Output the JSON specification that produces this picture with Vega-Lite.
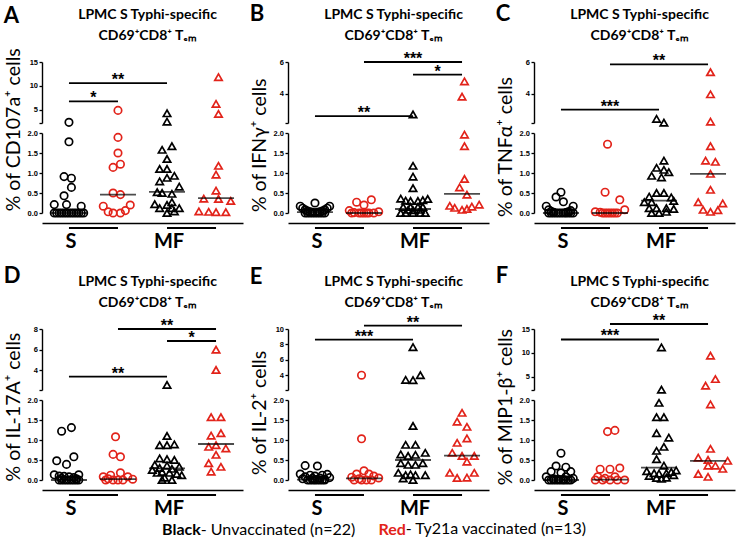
{
"$schema": "https://vega.github.io/schema/vega-lite/v6.json",
"background": "white",
"padding": {"left": 3, "top": 2, "right": 3, "bottom": 1},
"datasets": {
"pairs": [{"g": "S-B", "g2": "S-R"}, {"g": "MF-B", "g2": "MF-R"}],
"med": [
{"p":"A","g":"S-B","v":0},{"p":"A","g":"S-R","v":0.46},{"p":"A","g":"MF-B","v":0.53},{"p":"A","g":"MF-R","v":0.37},
{"p":"B","g":"S-B","v":0.02},{"p":"B","g":"S-R","v":0},{"p":"B","g":"MF-B","v":0.1},{"p":"B","g":"MF-R","v":0.48},
{"p":"C","g":"S-B","v":0},{"p":"C","g":"S-R","v":0},{"p":"C","g":"MF-B","v":0.31},{"p":"C","g":"MF-R","v":0.98},
{"p":"D","g":"S-B","v":0},{"p":"D","g":"S-R","v":0.02},{"p":"D","g":"MF-B","v":0.29},{"p":"D","g":"MF-R","v":0.9},
{"p":"E","g":"S-B","v":0.01},{"p":"E","g":"S-R","v":0.04},{"p":"E","g":"MF-B","v":0.5},{"p":"E","g":"MF-R","v":0.61},
{"p":"F","g":"S-B","v":0},{"p":"F","g":"S-R","v":0.01},{"p":"F","g":"MF-B","v":0.31},{"p":"F","g":"MF-R","v":0.48}
],
"sig": [
{"p":"A","g":"S-B","g2":"MF-B","v":10.6,"lab":"**","mid":"S-R","edge":false},
{"p":"A","g":"S-B","g2":"S-R","v":6.8,"lab":"*","mid":"S-B","edge":true},
{"p":"B","g":"S-R","g2":"MF-R","v":6.0,"lab":"***","mid":"MF-B","edge":false},
{"p":"B","g":"MF-B","g2":"MF-R","v":5.2,"lab":"*","mid":"MF-B","edge":true},
{"p":"B","g":"S-B","g2":"MF-B","v":2.57,"lab":"**","mid":"S-R","edge":false},
{"p":"C","g":"S-R","g2":"MF-R","v":5.85,"lab":"**","mid":"MF-B","edge":false},
{"p":"C","g":"S-B","g2":"MF-B","v":2.98,"lab":"***","mid":"S-R","edge":false},
{"p":"D","g":"S-R","g2":"MF-R","v":8.0,"lab":"**","mid":"MF-B","edge":false},
{"p":"D","g":"MF-B","g2":"MF-R","v":6.83,"lab":"*","mid":"MF-B","edge":true},
{"p":"D","g":"S-B","g2":"MF-B","v":3.35,"lab":"**","mid":"S-R","edge":false},
{"p":"E","g":"S-R","g2":"MF-R","v":10.43,"lab":"**","mid":"MF-B","edge":false},
{"p":"E","g":"S-B","g2":"MF-B","v":8.63,"lab":"***","mid":"S-R","edge":false},
{"p":"F","g":"S-R","g2":"MF-R","v":16.05,"lab":"**","mid":"MF-B","edge":false},
{"p":"F","g":"S-B","g2":"MF-B","v":12.8,"lab":"***","mid":"S-R","edge":false}
],
"pts": [
{"p":"A","g":"S-B","v":2.41,"k":0},{"p":"A","g":"S-B","v":1.78,"k":0},{"p":"A","g":"S-B","v":0.91,"k":-2},{"p":"A","g":"S-B","v":0.87,"k":1},{"p":"A","g":"S-B","v":0.64,"k":1},{"p":"A","g":"S-B","v":0.43,"k":-2},{"p":"A","g":"S-B","v":0.21,"k":-6},{"p":"A","g":"S-B","v":0.21,"k":-1},{"p":"A","g":"S-B","v":0.17,"k":5},{"p":"A","g":"S-B","v":0,"k":-6},{"p":"A","g":"S-B","v":0,"k":-5},{"p":"A","g":"S-B","v":0,"k":-4},{"p":"A","g":"S-B","v":0,"k":-3},{"p":"A","g":"S-B","v":0,"k":-2},{"p":"A","g":"S-B","v":0,"k":-1},{"p":"A","g":"S-B","v":0,"k":0},{"p":"A","g":"S-B","v":0,"k":1},{"p":"A","g":"S-B","v":0,"k":2},{"p":"A","g":"S-B","v":0,"k":3},{"p":"A","g":"S-B","v":0,"k":4},{"p":"A","g":"S-B","v":0,"k":5},{"p":"A","g":"S-B","v":0,"k":6},
{"p":"A","g":"S-R","v":4.9,"k":0},{"p":"A","g":"S-R","v":1.89,"k":0},{"p":"A","g":"S-R","v":1.5,"k":0},{"p":"A","g":"S-R","v":1.22,"k":1},{"p":"A","g":"S-R","v":1.14,"k":-2},{"p":"A","g":"S-R","v":0.5,"k":-2},{"p":"A","g":"S-R","v":0.46,"k":1},{"p":"A","g":"S-R","v":0.2,"k":5},{"p":"A","g":"S-R","v":0.17,"k":-6},{"p":"A","g":"S-R","v":0.06,"k":3},{"p":"A","g":"S-R","v":0.03,"k":-4},{"p":"A","g":"S-R","v":0,"k":-2},{"p":"A","g":"S-R","v":0,"k":1},
{"p":"A","g":"MF-B","v":4.3,"k":0},{"p":"A","g":"MF-B","v":2.55,"k":0},{"p":"A","g":"MF-B","v":1.67,"k":2},{"p":"A","g":"MF-B","v":1.58,"k":-2},{"p":"A","g":"MF-B","v":1.35,"k":0},{"p":"A","g":"MF-B","v":1.1,"k":-3},{"p":"A","g":"MF-B","v":1.1,"k":0},{"p":"A","g":"MF-B","v":0.93,"k":3},{"p":"A","g":"MF-B","v":0.88,"k":0},{"p":"A","g":"MF-B","v":0.79,"k":-3},{"p":"A","g":"MF-B","v":0.66,"k":5},{"p":"A","g":"MF-B","v":0.52,"k":-4},{"p":"A","g":"MF-B","v":0.5,"k":-2},{"p":"A","g":"MF-B","v":0.48,"k":2},{"p":"A","g":"MF-B","v":0.27,"k":2},{"p":"A","g":"MF-B","v":0.22,"k":-5},{"p":"A","g":"MF-B","v":0.2,"k":0},{"p":"A","g":"MF-B","v":0.12,"k":-3},{"p":"A","g":"MF-B","v":0.12,"k":2},{"p":"A","g":"MF-B","v":0.12,"k":5},{"p":"A","g":"MF-B","v":0.04,"k":3},{"p":"A","g":"MF-B","v":0,"k":0},
{"p":"A","g":"MF-R","v":11.85,"k":1},{"p":"A","g":"MF-R","v":6.26,"k":0},{"p":"A","g":"MF-R","v":4.16,"k":1},{"p":"A","g":"MF-R","v":1.18,"k":1},{"p":"A","g":"MF-R","v":0.96,"k":0},{"p":"A","g":"MF-R","v":0.56,"k":0},{"p":"A","g":"MF-R","v":0.36,"k":-5},{"p":"A","g":"MF-R","v":0.35,"k":1},{"p":"A","g":"MF-R","v":0.3,"k":6},{"p":"A","g":"MF-R","v":0.04,"k":-7},{"p":"A","g":"MF-R","v":0.03,"k":-3},{"p":"A","g":"MF-R","v":0.02,"k":0},{"p":"A","g":"MF-R","v":0.02,"k":4},
{"p":"B","g":"S-B","v":0.25,"k":0},{"p":"B","g":"S-B","v":0.17,"k":-6},{"p":"B","g":"S-B","v":0.17,"k":6},{"p":"B","g":"S-B","v":0.12,"k":-5},{"p":"B","g":"S-B","v":0.12,"k":5},{"p":"B","g":"S-B","v":0.08,"k":-4},{"p":"B","g":"S-B","v":0.08,"k":4},{"p":"B","g":"S-B","v":0.05,"k":-3},{"p":"B","g":"S-B","v":0.05,"k":3},{"p":"B","g":"S-B","v":0.03,"k":-2},{"p":"B","g":"S-B","v":0.03,"k":2},{"p":"B","g":"S-B","v":0.02,"k":-1},{"p":"B","g":"S-B","v":0.02,"k":1},{"p":"B","g":"S-B","v":0,"k":-4},{"p":"B","g":"S-B","v":0,"k":-3},{"p":"B","g":"S-B","v":0,"k":-2},{"p":"B","g":"S-B","v":0,"k":-1},{"p":"B","g":"S-B","v":0,"k":0},{"p":"B","g":"S-B","v":0,"k":1},{"p":"B","g":"S-B","v":0,"k":2},{"p":"B","g":"S-B","v":0,"k":3},{"p":"B","g":"S-B","v":0,"k":4},
{"p":"B","g":"S-R","v":0.33,"k":3},{"p":"B","g":"S-R","v":0.27,"k":-3},{"p":"B","g":"S-R","v":0.2,"k":0},{"p":"B","g":"S-R","v":0.06,"k":-6},{"p":"B","g":"S-R","v":0.03,"k":6},{"p":"B","g":"S-R","v":0.01,"k":-4},{"p":"B","g":"S-R","v":0,"k":-2},{"p":"B","g":"S-R","v":0,"k":-1},{"p":"B","g":"S-R","v":0,"k":0},{"p":"B","g":"S-R","v":0,"k":1},{"p":"B","g":"S-R","v":0,"k":2},{"p":"B","g":"S-R","v":0,"k":4},{"p":"B","g":"S-R","v":0,"k":-5},
{"p":"B","g":"MF-B","v":2.67,"k":0},{"p":"B","g":"MF-B","v":1.18,"k":0},{"p":"B","g":"MF-B","v":0.91,"k":0},{"p":"B","g":"MF-B","v":0.62,"k":0},{"p":"B","g":"MF-B","v":0.36,"k":-5},{"p":"B","g":"MF-B","v":0.35,"k":6},{"p":"B","g":"MF-B","v":0.31,"k":-3},{"p":"B","g":"MF-B","v":0.3,"k":-1},{"p":"B","g":"MF-B","v":0.3,"k":2},{"p":"B","g":"MF-B","v":0.32,"k":4},{"p":"B","g":"MF-B","v":0.15,"k":-4},{"p":"B","g":"MF-B","v":0.15,"k":-1},{"p":"B","g":"MF-B","v":0.15,"k":2},{"p":"B","g":"MF-B","v":0.15,"k":4},{"p":"B","g":"MF-B","v":0.08,"k":-2},{"p":"B","g":"MF-B","v":0.07,"k":0},{"p":"B","g":"MF-B","v":0.08,"k":3},{"p":"B","g":"MF-B","v":0,"k":-5},{"p":"B","g":"MF-B","v":0,"k":-3},{"p":"B","g":"MF-B","v":0,"k":0},{"p":"B","g":"MF-B","v":0,"k":3},{"p":"B","g":"MF-B","v":0,"k":5},
{"p":"B","g":"MF-R","v":4.77,"k":1},{"p":"B","g":"MF-R","v":3.8,"k":0},{"p":"B","g":"MF-R","v":1.96,"k":1},{"p":"B","g":"MF-R","v":1.67,"k":1},{"p":"B","g":"MF-R","v":0.85,"k":1},{"p":"B","g":"MF-R","v":0.64,"k":-1},{"p":"B","g":"MF-R","v":0.46,"k":2},{"p":"B","g":"MF-R","v":0.18,"k":-5},{"p":"B","g":"MF-R","v":0.13,"k":-3},{"p":"B","g":"MF-R","v":0.08,"k":0},{"p":"B","g":"MF-R","v":0.1,"k":2},{"p":"B","g":"MF-R","v":0.16,"k":4},{"p":"B","g":"MF-R","v":0.21,"k":7},
{"p":"C","g":"S-B","v":0.52,"k":0},{"p":"C","g":"S-B","v":0.4,"k":-2},{"p":"C","g":"S-B","v":0.28,"k":1},{"p":"C","g":"S-B","v":0.17,"k":-6},{"p":"C","g":"S-B","v":0.17,"k":5},{"p":"C","g":"S-B","v":0.08,"k":-5},{"p":"C","g":"S-B","v":0.06,"k":4},{"p":"C","g":"S-B","v":0.04,"k":-4},{"p":"C","g":"S-B","v":0.03,"k":3},{"p":"C","g":"S-B","v":0.02,"k":-3},{"p":"C","g":"S-B","v":0.01,"k":2},{"p":"C","g":"S-B","v":0,"k":-5},{"p":"C","g":"S-B","v":0,"k":-4},{"p":"C","g":"S-B","v":0,"k":-3},{"p":"C","g":"S-B","v":0,"k":-2},{"p":"C","g":"S-B","v":0,"k":-1},{"p":"C","g":"S-B","v":0,"k":0},{"p":"C","g":"S-B","v":0,"k":1},{"p":"C","g":"S-B","v":0,"k":2},{"p":"C","g":"S-B","v":0,"k":3},{"p":"C","g":"S-B","v":0,"k":4},{"p":"C","g":"S-B","v":0,"k":5},
{"p":"C","g":"S-R","v":1.72,"k":-1},{"p":"C","g":"S-R","v":0.52,"k":-2},{"p":"C","g":"S-R","v":0.33,"k":4},{"p":"C","g":"S-R","v":0.08,"k":6},{"p":"C","g":"S-R","v":0.03,"k":-6},{"p":"C","g":"S-R","v":0.02,"k":-4},{"p":"C","g":"S-R","v":0,"k":-3},{"p":"C","g":"S-R","v":0,"k":-2},{"p":"C","g":"S-R","v":0,"k":-1},{"p":"C","g":"S-R","v":0,"k":0},{"p":"C","g":"S-R","v":0,"k":1},{"p":"C","g":"S-R","v":0,"k":2},{"p":"C","g":"S-R","v":0,"k":3},
{"p":"C","g":"MF-B","v":2.39,"k":-1},{"p":"C","g":"MF-B","v":2.15,"k":2},{"p":"C","g":"MF-B","v":1.31,"k":2},{"p":"C","g":"MF-B","v":1.13,"k":-1},{"p":"C","g":"MF-B","v":1.08,"k":2},{"p":"C","g":"MF-B","v":1.02,"k":4},{"p":"C","g":"MF-B","v":0.93,"k":-3},{"p":"C","g":"MF-B","v":0.89,"k":1},{"p":"C","g":"MF-B","v":0.5,"k":-1},{"p":"C","g":"MF-B","v":0.5,"k":2},{"p":"C","g":"MF-B","v":0.41,"k":-4},{"p":"C","g":"MF-B","v":0.39,"k":5},{"p":"C","g":"MF-B","v":0.27,"k":-6},{"p":"C","g":"MF-B","v":0.27,"k":-3},{"p":"C","g":"MF-B","v":0.3,"k":6},{"p":"C","g":"MF-B","v":0.12,"k":-4},{"p":"C","g":"MF-B","v":0.12,"k":-1},{"p":"C","g":"MF-B","v":0.12,"k":3},{"p":"C","g":"MF-B","v":0.1,"k":6},{"p":"C","g":"MF-B","v":0,"k":-3},{"p":"C","g":"MF-B","v":0,"k":0},{"p":"C","g":"MF-B","v":0.03,"k":3},
{"p":"C","g":"MF-R","v":5.35,"k":1},{"p":"C","g":"MF-R","v":3.95,"k":1},{"p":"C","g":"MF-R","v":2.22,"k":1},{"p":"C","g":"MF-R","v":1.67,"k":1},{"p":"C","g":"MF-R","v":1.31,"k":-1},{"p":"C","g":"MF-R","v":1.28,"k":3},{"p":"C","g":"MF-R","v":0.98,"k":1},{"p":"C","g":"MF-R","v":0.58,"k":1},{"p":"C","g":"MF-R","v":0.27,"k":-4},{"p":"C","g":"MF-R","v":0.24,"k":6},{"p":"C","g":"MF-R","v":0.08,"k":-2},{"p":"C","g":"MF-R","v":0.03,"k":1},{"p":"C","g":"MF-R","v":0.07,"k":4},
{"p":"D","g":"S-B","v":1.31,"k":1},{"p":"D","g":"S-B","v":1.22,"k":-3},{"p":"D","g":"S-B","v":0.58,"k":2},{"p":"D","g":"S-B","v":0.48,"k":-5},{"p":"D","g":"S-B","v":0.39,"k":-1},{"p":"D","g":"S-B","v":0.13,"k":-6},{"p":"D","g":"S-B","v":0.13,"k":4},{"p":"D","g":"S-B","v":0.1,"k":-4},{"p":"D","g":"S-B","v":0.09,"k":-2},{"p":"D","g":"S-B","v":0.08,"k":0},{"p":"D","g":"S-B","v":0.06,"k":2},{"p":"D","g":"S-B","v":0.04,"k":-3},{"p":"D","g":"S-B","v":0.03,"k":3},{"p":"D","g":"S-B","v":0,"k":-4},{"p":"D","g":"S-B","v":0,"k":-3},{"p":"D","g":"S-B","v":0,"k":-2},{"p":"D","g":"S-B","v":0,"k":-1},{"p":"D","g":"S-B","v":0,"k":0},{"p":"D","g":"S-B","v":0,"k":1},{"p":"D","g":"S-B","v":0,"k":2},{"p":"D","g":"S-B","v":0,"k":3},{"p":"D","g":"S-B","v":0,"k":4},
{"p":"D","g":"S-R","v":1.08,"k":-1},{"p":"D","g":"S-R","v":0.64,"k":-2},{"p":"D","g":"S-R","v":0.58,"k":1},{"p":"D","g":"S-R","v":0.18,"k":1},{"p":"D","g":"S-R","v":0.12,"k":-3},{"p":"D","g":"S-R","v":0.08,"k":-6},{"p":"D","g":"S-R","v":0.08,"k":4},{"p":"D","g":"S-R","v":0.03,"k":-4},{"p":"D","g":"S-R","v":0.02,"k":6},{"p":"D","g":"S-R","v":0,"k":-2},{"p":"D","g":"S-R","v":0,"k":0},{"p":"D","g":"S-R","v":0,"k":2},{"p":"D","g":"S-R","v":0,"k":-5},
{"p":"D","g":"MF-B","v":2.54,"k":0},{"p":"D","g":"MF-B","v":1.1,"k":0},{"p":"D","g":"MF-B","v":0.87,"k":-3},{"p":"D","g":"MF-B","v":0.87,"k":0},{"p":"D","g":"MF-B","v":0.89,"k":3},{"p":"D","g":"MF-B","v":0.54,"k":-3},{"p":"D","g":"MF-B","v":0.52,"k":0},{"p":"D","g":"MF-B","v":0.5,"k":3},{"p":"D","g":"MF-B","v":0.38,"k":-5},{"p":"D","g":"MF-B","v":0.36,"k":0},{"p":"D","g":"MF-B","v":0.33,"k":5},{"p":"D","g":"MF-B","v":0.3,"k":-3},{"p":"D","g":"MF-B","v":0.28,"k":2},{"p":"D","g":"MF-B","v":0.25,"k":-6},{"p":"D","g":"MF-B","v":0.2,"k":-2},{"p":"D","g":"MF-B","v":0.18,"k":-4},{"p":"D","g":"MF-B","v":0.18,"k":1},{"p":"D","g":"MF-B","v":0.15,"k":4},{"p":"D","g":"MF-B","v":0.12,"k":6},{"p":"D","g":"MF-B","v":0.06,"k":-1},{"p":"D","g":"MF-B","v":0,"k":-2},{"p":"D","g":"MF-B","v":0,"k":2},
{"p":"D","g":"MF-R","v":5.98,"k":0},{"p":"D","g":"MF-R","v":4.0,"k":0},{"p":"D","g":"MF-R","v":1.57,"k":-2},{"p":"D","g":"MF-R","v":1.57,"k":2},{"p":"D","g":"MF-R","v":1.11,"k":-2},{"p":"D","g":"MF-R","v":1.17,"k":2},{"p":"D","g":"MF-R","v":0.83,"k":-3},{"p":"D","g":"MF-R","v":0.87,"k":0},{"p":"D","g":"MF-R","v":0.79,"k":4},{"p":"D","g":"MF-R","v":0.63,"k":0},{"p":"D","g":"MF-R","v":0.42,"k":-3},{"p":"D","g":"MF-R","v":0.33,"k":2},{"p":"D","g":"MF-R","v":0.21,"k":-2},
{"p":"E","g":"S-B","v":0.36,"k":-4},{"p":"E","g":"S-B","v":0.35,"k":1},{"p":"E","g":"S-B","v":0.15,"k":-6},{"p":"E","g":"S-B","v":0.14,"k":5},{"p":"E","g":"S-B","v":0.12,"k":-2},{"p":"E","g":"S-B","v":0.12,"k":3},{"p":"E","g":"S-B","v":0.1,"k":0},{"p":"E","g":"S-B","v":0.08,"k":-4},{"p":"E","g":"S-B","v":0.06,"k":6},{"p":"E","g":"S-B","v":0.05,"k":2},{"p":"E","g":"S-B","v":0.04,"k":-1},{"p":"E","g":"S-B","v":0.03,"k":-5},{"p":"E","g":"S-B","v":0.02,"k":4},{"p":"E","g":"S-B","v":0.01,"k":0},{"p":"E","g":"S-B","v":0,"k":-3},{"p":"E","g":"S-B","v":0,"k":-2},{"p":"E","g":"S-B","v":0,"k":-1},{"p":"E","g":"S-B","v":0,"k":0},{"p":"E","g":"S-B","v":0,"k":1},{"p":"E","g":"S-B","v":0,"k":2},{"p":"E","g":"S-B","v":0,"k":3},{"p":"E","g":"S-B","v":0,"k":4},
{"p":"E","g":"S-R","v":3.99,"k":-1},{"p":"E","g":"S-R","v":1.03,"k":-1},{"p":"E","g":"S-R","v":0.23,"k":0},{"p":"E","g":"S-R","v":0.15,"k":-3},{"p":"E","g":"S-R","v":0.15,"k":2},{"p":"E","g":"S-R","v":0.1,"k":4},{"p":"E","g":"S-R","v":0.07,"k":-5},{"p":"E","g":"S-R","v":0.05,"k":6},{"p":"E","g":"S-R","v":0.03,"k":-2},{"p":"E","g":"S-R","v":0,"k":-4},{"p":"E","g":"S-R","v":0,"k":-1},{"p":"E","g":"S-R","v":0,"k":1},{"p":"E","g":"S-R","v":0,"k":3},
{"p":"E","g":"MF-B","v":7.64,"k":0},{"p":"E","g":"MF-B","v":3.99,"k":3},{"p":"E","g":"MF-B","v":3.39,"k":-3},{"p":"E","g":"MF-B","v":3.35,"k":0},{"p":"E","g":"MF-B","v":1.35,"k":0},{"p":"E","g":"MF-B","v":0.88,"k":-3},{"p":"E","g":"MF-B","v":0.88,"k":1},{"p":"E","g":"MF-B","v":0.68,"k":5},{"p":"E","g":"MF-B","v":0.64,"k":-5},{"p":"E","g":"MF-B","v":0.6,"k":-2},{"p":"E","g":"MF-B","v":0.63,"k":1},{"p":"E","g":"MF-B","v":0.42,"k":-5},{"p":"E","g":"MF-B","v":0.42,"k":4},{"p":"E","g":"MF-B","v":0.38,"k":-2},{"p":"E","g":"MF-B","v":0.38,"k":1},{"p":"E","g":"MF-B","v":0.18,"k":-6},{"p":"E","g":"MF-B","v":0.14,"k":-1},{"p":"E","g":"MF-B","v":0.12,"k":-3},{"p":"E","g":"MF-B","v":0.12,"k":1},{"p":"E","g":"MF-B","v":0.12,"k":5},{"p":"E","g":"MF-B","v":0.04,"k":-4},{"p":"E","g":"MF-B","v":0,"k":0},
{"p":"E","g":"MF-R","v":1.68,"k":0},{"p":"E","g":"MF-R","v":1.46,"k":-2},{"p":"E","g":"MF-R","v":1.33,"k":2},{"p":"E","g":"MF-R","v":1.04,"k":2},{"p":"E","g":"MF-R","v":0.93,"k":-2},{"p":"E","g":"MF-R","v":0.68,"k":-4},{"p":"E","g":"MF-R","v":0.6,"k":5},{"p":"E","g":"MF-R","v":0.6,"k":0},{"p":"E","g":"MF-R","v":0.46,"k":2},{"p":"E","g":"MF-R","v":0.18,"k":-5},{"p":"E","g":"MF-R","v":0.18,"k":5},{"p":"E","g":"MF-R","v":0.05,"k":-2},{"p":"E","g":"MF-R","v":0.06,"k":2},
{"p":"F","g":"S-B","v":0.67,"k":0},{"p":"F","g":"S-B","v":0.35,"k":-2},{"p":"F","g":"S-B","v":0.32,"k":2},{"p":"F","g":"S-B","v":0.21,"k":-4},{"p":"F","g":"S-B","v":0.18,"k":0},{"p":"F","g":"S-B","v":0.21,"k":4},{"p":"F","g":"S-B","v":0.08,"k":-6},{"p":"F","g":"S-B","v":0.08,"k":2},{"p":"F","g":"S-B","v":0.04,"k":5},{"p":"F","g":"S-B","v":0.03,"k":-3},{"p":"F","g":"S-B","v":0.02,"k":-1},{"p":"F","g":"S-B","v":0.01,"k":1},{"p":"F","g":"S-B","v":0,"k":-5},{"p":"F","g":"S-B","v":0,"k":-4},{"p":"F","g":"S-B","v":0,"k":-3},{"p":"F","g":"S-B","v":0,"k":-2},{"p":"F","g":"S-B","v":0,"k":-1},{"p":"F","g":"S-B","v":0,"k":0},{"p":"F","g":"S-B","v":0,"k":1},{"p":"F","g":"S-B","v":0,"k":2},{"p":"F","g":"S-B","v":0,"k":3},{"p":"F","g":"S-B","v":0,"k":4},
{"p":"F","g":"S-R","v":1.24,"k":2},{"p":"F","g":"S-R","v":1.21,"k":-1},{"p":"F","g":"S-R","v":0.3,"k":4},{"p":"F","g":"S-R","v":0.27,"k":-4},{"p":"F","g":"S-R","v":0.27,"k":0},{"p":"F","g":"S-R","v":0.08,"k":-5},{"p":"F","g":"S-R","v":0.08,"k":2},{"p":"F","g":"S-R","v":0.04,"k":-2},{"p":"F","g":"S-R","v":0,"k":-6},{"p":"F","g":"S-R","v":0,"k":-3},{"p":"F","g":"S-R","v":0,"k":0},{"p":"F","g":"S-R","v":0,"k":3},{"p":"F","g":"S-R","v":0,"k":6},
{"p":"F","g":"MF-B","v":11.15,"k":1},{"p":"F","g":"MF-B","v":2.27,"k":1},{"p":"F","g":"MF-B","v":1.93,"k":0},{"p":"F","g":"MF-B","v":1.57,"k":-1},{"p":"F","g":"MF-B","v":1.57,"k":2},{"p":"F","g":"MF-B","v":1.17,"k":-1},{"p":"F","g":"MF-B","v":1.06,"k":4},{"p":"F","g":"MF-B","v":0.83,"k":2},{"p":"F","g":"MF-B","v":0.73,"k":-1},{"p":"F","g":"MF-B","v":0.52,"k":-1},{"p":"F","g":"MF-B","v":0.36,"k":2},{"p":"F","g":"MF-B","v":0.22,"k":-5},{"p":"F","g":"MF-B","v":0.17,"k":-2},{"p":"F","g":"MF-B","v":0.16,"k":0},{"p":"F","g":"MF-B","v":0.17,"k":3},{"p":"F","g":"MF-B","v":0.2,"k":5},{"p":"F","g":"MF-B","v":0.1,"k":-4},{"p":"F","g":"MF-B","v":0.05,"k":-1},{"p":"F","g":"MF-B","v":0.03,"k":1},{"p":"F","g":"MF-B","v":0.06,"k":3},{"p":"F","g":"MF-B","v":0.24,"k":7},{"p":"F","g":"MF-B","v":0.12,"k":6},
{"p":"F","g":"MF-R","v":9.4,"k":1},{"p":"F","g":"MF-R","v":4.5,"k":3},{"p":"F","g":"MF-R","v":3.1,"k":-1},{"p":"F","g":"MF-R","v":1.89,"k":1},{"p":"F","g":"MF-R","v":0.78,"k":1},{"p":"F","g":"MF-R","v":0.56,"k":-4},{"p":"F","g":"MF-R","v":0.5,"k":0},{"p":"F","g":"MF-R","v":0.48,"k":8},{"p":"F","g":"MF-R","v":0.36,"k":0},{"p":"F","g":"MF-R","v":0.36,"k":3},{"p":"F","g":"MF-R","v":0.28,"k":6},{"p":"F","g":"MF-R","v":0.15,"k":-4},{"p":"F","g":"MF-R","v":0.08,"k":0}
]
},
"columns": 3,
"spacing": {"row": 10, "column": 45},
"bounds": "flush",
"resolve": {"scale": {"x": "independent", "y": "independent", "xOffset": "independent"}},
"concat": [
 {"width": 201, "height": 61, "layer": [
  {"data": {"name": "pts"}, "transform": [{"filter": "datum.p=='A' && datum.v>2"}], "mark": {"type": "point", "filled": false, "strokeWidth": 1.7, "opacity": 1},
   "encoding": {"x": {"field": "g", "type": "nominal", "scale": {"type": "band", "domain": ["S-B","S-R","MF-B","MF-R"], "paddingInner": 0, "paddingOuter": 0.05}, "axis": {"orient": "top", "title": ["LPMC S Typhi-specific", "CD69⁺CD8⁺ Tₑₘ"]}},
    "xOffset": {"field": "k", "type": "quantitative", "scale": {"domain": [-10, 10], "nice": false, "zero": false}},
    "y": {"field": "v", "type": "quantitative", "scale": {"domain": [2.27, 15], "nice": false, "zero": false}, "axis": {"values": [2.27, 5, 10, 15], "tickCount": 12, "format": "d", "labelOverlap": false, "labelExpr": "datum.value<2.9?'':datum.label", "title": "A", "titleAngle": 0.01, "titleAlign": "left", "titleX": -38.7, "titleY": -40, "titleFontSize": 22, "titleFontWeight": "bold"}},
    "color": {"field": "g", "type": "nominal", "scale": {"domain": ["S-B","S-R","MF-B","MF-R"], "range": ["black","#e2231a","black","#e2231a"]}, "legend": null},
    "shape": {"field": "g", "type": "nominal", "scale": {"domain": ["S-B","S-R","MF-B","MF-R"], "range": ["circle","circle","triangle-up","triangle-up"]}, "legend": null},
    "size": {"field": "g", "type": "nominal", "scale": {"domain": ["S-B","S-R","MF-B","MF-R"], "range": [55,55,75,75]}, "legend": null}}},
  {"data": {"name": "sig"}, "transform": [{"filter": "datum.p=='A'"}], "mark": {"type": "rule", "strokeWidth": 1.8, "color": "black"},
   "encoding": {"x": {"field": "g", "type": "nominal", "scale": {"type": "band", "domain": ["S-B","S-R","MF-B","MF-R"], "paddingInner": 0, "paddingOuter": 0.05}, "bandPosition": 0.5}, "x2": {"field": "g2", "bandPosition": 0.5},
    "y": {"field": "v", "type": "quantitative", "scale": {"domain": [2.27, 15], "nice": false, "zero": false}}}},
  {"data": {"name": "sig"}, "transform": [{"filter": "datum.p=='A' && !datum.edge"}], "mark": {"type": "text", "font": "Liberation Sans", "fontSize": 16, "fontWeight": "bold", "baseline": "alphabetic", "dy": 2, "color": "black"},
   "encoding": {"x": {"field": "mid", "type": "nominal", "scale": {"type": "band", "domain": ["S-B","S-R","MF-B","MF-R"], "paddingInner": 0, "paddingOuter": 0.05}, "bandPosition": 0.5},
    "y": {"field": "v", "type": "quantitative", "scale": {"domain": [2.27, 15], "nice": false, "zero": false}}, "text": {"field": "lab"}}},
  {"data": {"name": "sig"}, "transform": [{"filter": "datum.p=='A' && datum.edge"}], "mark": {"type": "text", "font": "Liberation Sans", "fontSize": 16, "fontWeight": "bold", "baseline": "alphabetic", "dy": 2, "color": "black"},
   "encoding": {"x": {"field": "mid", "type": "nominal", "scale": {"type": "band", "domain": ["S-B","S-R","MF-B","MF-R"], "paddingInner": 0, "paddingOuter": 0.05}, "bandPosition": 1},
    "y": {"field": "v", "type": "quantitative", "scale": {"domain": [2.27, 15], "nice": false, "zero": false}}, "text": {"field": "lab"}}}
 ]},
 {"width": 201, "height": 61, "layer": [
  {"data": {"name": "pts"}, "transform": [{"filter": "datum.p=='B' && datum.v>2"}], "mark": {"type": "point", "filled": false, "strokeWidth": 1.7, "opacity": 1},
   "encoding": {"x": {"field": "g", "type": "nominal", "scale": {"type": "band", "domain": ["S-B","S-R","MF-B","MF-R"], "paddingInner": 0, "paddingOuter": 0.05}, "axis": {"orient": "top", "title": ["LPMC S Typhi-specific", "CD69⁺CD8⁺ Tₑₘ"]}},
    "xOffset": {"field": "k", "type": "quantitative", "scale": {"domain": [-10, 10], "nice": false, "zero": false}},
    "y": {"field": "v", "type": "quantitative", "scale": {"domain": [2.13, 6], "nice": false, "zero": false}, "axis": {"values": [2.13, 3, 4, 5, 6], "tickCount": 12, "format": "d", "labelOverlap": false, "labelExpr": "datum.value<2.9?'':datum.label", "title": "B", "titleAngle": 0.01, "titleAlign": "left", "titleX": -38.7, "titleY": -41.5, "titleFontSize": 22, "titleFontWeight": "bold"}},
    "color": {"field": "g", "type": "nominal", "scale": {"domain": ["S-B","S-R","MF-B","MF-R"], "range": ["black","#e2231a","black","#e2231a"]}, "legend": null},
    "shape": {"field": "g", "type": "nominal", "scale": {"domain": ["S-B","S-R","MF-B","MF-R"], "range": ["circle","circle","triangle-up","triangle-up"]}, "legend": null},
    "size": {"field": "g", "type": "nominal", "scale": {"domain": ["S-B","S-R","MF-B","MF-R"], "range": [55,55,75,75]}, "legend": null}}},
  {"data": {"name": "sig"}, "transform": [{"filter": "datum.p=='B'"}], "mark": {"type": "rule", "strokeWidth": 1.8, "color": "black"},
   "encoding": {"x": {"field": "g", "type": "nominal", "scale": {"type": "band", "domain": ["S-B","S-R","MF-B","MF-R"], "paddingInner": 0, "paddingOuter": 0.05}, "bandPosition": 0.5}, "x2": {"field": "g2", "bandPosition": 0.5},
    "y": {"field": "v", "type": "quantitative", "scale": {"domain": [2.13, 6], "nice": false, "zero": false}}}},
  {"data": {"name": "sig"}, "transform": [{"filter": "datum.p=='B' && !datum.edge"}], "mark": {"type": "text", "font": "Liberation Sans", "fontSize": 16, "fontWeight": "bold", "baseline": "alphabetic", "dy": 2, "color": "black"},
   "encoding": {"x": {"field": "mid", "type": "nominal", "scale": {"type": "band", "domain": ["S-B","S-R","MF-B","MF-R"], "paddingInner": 0, "paddingOuter": 0.05}, "bandPosition": 0.5},
    "y": {"field": "v", "type": "quantitative", "scale": {"domain": [2.13, 6], "nice": false, "zero": false}}, "text": {"field": "lab"}}},
  {"data": {"name": "sig"}, "transform": [{"filter": "datum.p=='B' && datum.edge"}], "mark": {"type": "text", "font": "Liberation Sans", "fontSize": 16, "fontWeight": "bold", "baseline": "alphabetic", "dy": 2, "color": "black"},
   "encoding": {"x": {"field": "mid", "type": "nominal", "scale": {"type": "band", "domain": ["S-B","S-R","MF-B","MF-R"], "paddingInner": 0, "paddingOuter": 0.05}, "bandPosition": 1},
    "y": {"field": "v", "type": "quantitative", "scale": {"domain": [2.13, 6], "nice": false, "zero": false}}, "text": {"field": "lab"}}}
 ]},
 {"width": 201, "height": 61, "layer": [
  {"data": {"name": "pts"}, "transform": [{"filter": "datum.p=='C' && datum.v>2"}], "mark": {"type": "point", "filled": false, "strokeWidth": 1.7, "opacity": 1},
   "encoding": {"x": {"field": "g", "type": "nominal", "scale": {"type": "band", "domain": ["S-B","S-R","MF-B","MF-R"], "paddingInner": 0, "paddingOuter": 0.05}, "axis": {"orient": "top", "title": ["LPMC S Typhi-specific", "CD69⁺CD8⁺ Tₑₘ"]}},
    "xOffset": {"field": "k", "type": "quantitative", "scale": {"domain": [-10, 10], "nice": false, "zero": false}},
    "y": {"field": "v", "type": "quantitative", "scale": {"domain": [2.13, 6], "nice": false, "zero": false}, "axis": {"values": [2.13, 3, 4, 5, 6], "tickCount": 12, "format": "d", "labelOverlap": false, "labelExpr": "datum.value<2.9?'':datum.label", "title": "C", "titleAngle": 0.01, "titleAlign": "left", "titleX": -38.7, "titleY": -41.5, "titleFontSize": 22, "titleFontWeight": "bold"}},
    "color": {"field": "g", "type": "nominal", "scale": {"domain": ["S-B","S-R","MF-B","MF-R"], "range": ["black","#e2231a","black","#e2231a"]}, "legend": null},
    "shape": {"field": "g", "type": "nominal", "scale": {"domain": ["S-B","S-R","MF-B","MF-R"], "range": ["circle","circle","triangle-up","triangle-up"]}, "legend": null},
    "size": {"field": "g", "type": "nominal", "scale": {"domain": ["S-B","S-R","MF-B","MF-R"], "range": [55,55,75,75]}, "legend": null}}},
  {"data": {"name": "sig"}, "transform": [{"filter": "datum.p=='C'"}], "mark": {"type": "rule", "strokeWidth": 1.8, "color": "black"},
   "encoding": {"x": {"field": "g", "type": "nominal", "scale": {"type": "band", "domain": ["S-B","S-R","MF-B","MF-R"], "paddingInner": 0, "paddingOuter": 0.05}, "bandPosition": 0.5}, "x2": {"field": "g2", "bandPosition": 0.5},
    "y": {"field": "v", "type": "quantitative", "scale": {"domain": [2.13, 6], "nice": false, "zero": false}}}},
  {"data": {"name": "sig"}, "transform": [{"filter": "datum.p=='C' && !datum.edge"}], "mark": {"type": "text", "font": "Liberation Sans", "fontSize": 16, "fontWeight": "bold", "baseline": "alphabetic", "dy": 2, "color": "black"},
   "encoding": {"x": {"field": "mid", "type": "nominal", "scale": {"type": "band", "domain": ["S-B","S-R","MF-B","MF-R"], "paddingInner": 0, "paddingOuter": 0.05}, "bandPosition": 0.5},
    "y": {"field": "v", "type": "quantitative", "scale": {"domain": [2.13, 6], "nice": false, "zero": false}}, "text": {"field": "lab"}}}
 ]},
 {"width": 201, "height": 80, "layer": [
  {"data": {"name": "pts"}, "transform": [{"filter": "datum.p=='A' && datum.v<=2"}], "mark": {"type": "point", "filled": false, "strokeWidth": 1.7, "opacity": 1},
   "encoding": {"x": {"field": "g", "type": "nominal", "scale": {"type": "band", "domain": ["S-B","S-R","MF-B","MF-R"], "paddingInner": 0, "paddingOuter": 0.05}, "axis": {"orient": "bottom", "bandPosition": 1, "labelExpr": "datum.value=='S-B'?'S':(datum.value=='MF-B'?'MF':'')", "title": null}},
    "xOffset": {"field": "k", "type": "quantitative", "scale": {"domain": [-10, 10], "nice": false, "zero": false}},
    "y": {"field": "v", "type": "quantitative", "scale": {"domain": [0, 2], "nice": false, "zero": false}, "axis": {"values": [0, 0.5, 1, 1.5, 2], "tickCount": 12, "format": ".1f", "labelOverlap": false, "title": "% of CD107a⁺ cells", "titleY": -3.7}},
    "color": {"field": "g", "type": "nominal", "scale": {"domain": ["S-B","S-R","MF-B","MF-R"], "range": ["black","#e2231a","black","#e2231a"]}, "legend": null},
    "shape": {"field": "g", "type": "nominal", "scale": {"domain": ["S-B","S-R","MF-B","MF-R"], "range": ["circle","circle","triangle-up","triangle-up"]}, "legend": null},
    "size": {"field": "g", "type": "nominal", "scale": {"domain": ["S-B","S-R","MF-B","MF-R"], "range": [55,55,75,75]}, "legend": null}}},
  {"data": {"name": "med"}, "transform": [{"filter": "datum.p=='A'"}], "mark": {"type": "tick", "orient": "horizontal", "size": 36, "thickness": 1.8, "color": "black"},
   "encoding": {"x": {"field": "g", "type": "nominal", "scale": {"type": "band", "domain": ["S-B","S-R","MF-B","MF-R"], "paddingInner": 0, "paddingOuter": 0.05}},
    "y": {"field": "v", "type": "quantitative", "scale": {"domain": [0, 2], "nice": false, "zero": false}}}},
  {"data": {"name": "pairs"}, "mark": {"type": "rule", "strokeWidth": 2, "color": "black"},
   "encoding": {"x": {"field": "g", "type": "nominal", "scale": {"type": "band", "domain": ["S-B","S-R","MF-B","MF-R"], "paddingInner": 0, "paddingOuter": 0.05}, "bandPosition": 0.5}, "x2": {"field": "g2", "bandPosition": 0.5},
    "y": {"datum": -0.375, "type": "quantitative", "scale": {"domain": [0, 2], "nice": false, "zero": false}}}}
 ]},
 {"width": 201, "height": 80, "layer": [
  {"data": {"name": "pts"}, "transform": [{"filter": "datum.p=='B' && datum.v<=2"}], "mark": {"type": "point", "filled": false, "strokeWidth": 1.7, "opacity": 1},
   "encoding": {"x": {"field": "g", "type": "nominal", "scale": {"type": "band", "domain": ["S-B","S-R","MF-B","MF-R"], "paddingInner": 0, "paddingOuter": 0.05}, "axis": {"orient": "bottom", "bandPosition": 1, "labelExpr": "datum.value=='S-B'?'S':(datum.value=='MF-B'?'MF':'')", "title": null}},
    "xOffset": {"field": "k", "type": "quantitative", "scale": {"domain": [-10, 10], "nice": false, "zero": false}},
    "y": {"field": "v", "type": "quantitative", "scale": {"domain": [0, 2], "nice": false, "zero": false}, "axis": {"values": [0, 0.5, 1, 1.5, 2], "tickCount": 12, "format": ".1f", "labelOverlap": false, "title": "% of IFNγ⁺ cells", "titleY": 11.8}},
    "color": {"field": "g", "type": "nominal", "scale": {"domain": ["S-B","S-R","MF-B","MF-R"], "range": ["black","#e2231a","black","#e2231a"]}, "legend": null},
    "shape": {"field": "g", "type": "nominal", "scale": {"domain": ["S-B","S-R","MF-B","MF-R"], "range": ["circle","circle","triangle-up","triangle-up"]}, "legend": null},
    "size": {"field": "g", "type": "nominal", "scale": {"domain": ["S-B","S-R","MF-B","MF-R"], "range": [55,55,75,75]}, "legend": null}}},
  {"data": {"name": "med"}, "transform": [{"filter": "datum.p=='B'"}], "mark": {"type": "tick", "orient": "horizontal", "size": 36, "thickness": 1.8, "color": "black"},
   "encoding": {"x": {"field": "g", "type": "nominal", "scale": {"type": "band", "domain": ["S-B","S-R","MF-B","MF-R"], "paddingInner": 0, "paddingOuter": 0.05}},
    "y": {"field": "v", "type": "quantitative", "scale": {"domain": [0, 2], "nice": false, "zero": false}}}},
  {"data": {"name": "pairs"}, "mark": {"type": "rule", "strokeWidth": 2, "color": "black"},
   "encoding": {"x": {"field": "g", "type": "nominal", "scale": {"type": "band", "domain": ["S-B","S-R","MF-B","MF-R"], "paddingInner": 0, "paddingOuter": 0.05}, "bandPosition": 0.5}, "x2": {"field": "g2", "bandPosition": 0.5},
    "y": {"datum": -0.375, "type": "quantitative", "scale": {"domain": [0, 2], "nice": false, "zero": false}}}}
 ]},
 {"width": 201, "height": 80, "layer": [
  {"data": {"name": "pts"}, "transform": [{"filter": "datum.p=='C' && datum.v<=2"}], "mark": {"type": "point", "filled": false, "strokeWidth": 1.7, "opacity": 1},
   "encoding": {"x": {"field": "g", "type": "nominal", "scale": {"type": "band", "domain": ["S-B","S-R","MF-B","MF-R"], "paddingInner": 0, "paddingOuter": 0.05}, "axis": {"orient": "bottom", "bandPosition": 1, "labelExpr": "datum.value=='S-B'?'S':(datum.value=='MF-B'?'MF':'')", "title": "- Ty21a vaccinated (n=13)", "titleAlign": "left", "titleX": -128.7, "titleY": 310}},
    "xOffset": {"field": "k", "type": "quantitative", "scale": {"domain": [-10, 10], "nice": false, "zero": false}},
    "y": {"field": "v", "type": "quantitative", "scale": {"domain": [0, 2], "nice": false, "zero": false}, "axis": {"values": [0, 0.5, 1, 1.5, 2], "tickCount": 12, "format": ".1f", "labelOverlap": false, "title": "% of TNFα⁺ cells", "titleY": 13.5}},
    "color": {"field": "g", "type": "nominal", "scale": {"domain": ["S-B","S-R","MF-B","MF-R"], "range": ["black","#e2231a","black","#e2231a"]}, "legend": null},
    "shape": {"field": "g", "type": "nominal", "scale": {"domain": ["S-B","S-R","MF-B","MF-R"], "range": ["circle","circle","triangle-up","triangle-up"]}, "legend": null},
    "size": {"field": "g", "type": "nominal", "scale": {"domain": ["S-B","S-R","MF-B","MF-R"], "range": [55,55,75,75]}, "legend": null}}},
  {"data": {"name": "med"}, "transform": [{"filter": "datum.p=='C'"}], "mark": {"type": "tick", "orient": "horizontal", "size": 36, "thickness": 1.8, "color": "black"},
   "encoding": {"x": {"field": "g", "type": "nominal", "scale": {"type": "band", "domain": ["S-B","S-R","MF-B","MF-R"], "paddingInner": 0, "paddingOuter": 0.05}},
    "y": {"field": "v", "type": "quantitative", "scale": {"domain": [0, 2], "nice": false, "zero": false}}}},
  {"data": {"name": "pairs"}, "mark": {"type": "rule", "strokeWidth": 2, "color": "black"},
   "encoding": {"x": {"field": "g", "type": "nominal", "scale": {"type": "band", "domain": ["S-B","S-R","MF-B","MF-R"], "paddingInner": 0, "paddingOuter": 0.05}, "bandPosition": 0.5}, "x2": {"field": "g2", "bandPosition": 0.5},
    "y": {"datum": -0.375, "type": "quantitative", "scale": {"domain": [0, 2], "nice": false, "zero": false}}}}
 ]},
 {"width": 201, "height": 95.5, "data": {"values": []}, "mark": {"type": "point", "opacity": 0}, "encoding": {}},
 {"width": 201, "height": 95.5, "data": {"values": []}, "mark": {"type": "point", "opacity": 0}, "encoding": {}},
 {"width": 201, "height": 95.5, "data": {"values": []}, "mark": {"type": "point", "opacity": 0}, "encoding": {}},
 {"width": 201, "height": 61, "layer": [
  {"data": {"name": "pts"}, "transform": [{"filter": "datum.p=='D' && datum.v>2"}], "mark": {"type": "point", "filled": false, "strokeWidth": 1.7, "opacity": 1},
   "encoding": {"x": {"field": "g", "type": "nominal", "scale": {"type": "band", "domain": ["S-B","S-R","MF-B","MF-R"], "paddingInner": 0, "paddingOuter": 0.05}, "axis": {"orient": "top", "title": ["LPMC S Typhi-specific", "CD69⁺CD8⁺ Tₑₘ"]}},
    "xOffset": {"field": "k", "type": "quantitative", "scale": {"domain": [-10, 10], "nice": false, "zero": false}},
    "y": {"field": "v", "type": "quantitative", "scale": {"domain": [2.05, 8], "nice": false, "zero": false}, "axis": {"values": [2.05, 4, 6, 8], "tickCount": 12, "format": "d", "labelOverlap": false, "labelExpr": "datum.value<2.9?'':datum.label", "title": "D", "titleAngle": 0.01, "titleAlign": "left", "titleX": -38.7, "titleY": -47, "titleFontSize": 22, "titleFontWeight": "bold"}},
    "color": {"field": "g", "type": "nominal", "scale": {"domain": ["S-B","S-R","MF-B","MF-R"], "range": ["black","#e2231a","black","#e2231a"]}, "legend": null},
    "shape": {"field": "g", "type": "nominal", "scale": {"domain": ["S-B","S-R","MF-B","MF-R"], "range": ["circle","circle","triangle-up","triangle-up"]}, "legend": null},
    "size": {"field": "g", "type": "nominal", "scale": {"domain": ["S-B","S-R","MF-B","MF-R"], "range": [55,55,75,75]}, "legend": null}}},
  {"data": {"name": "sig"}, "transform": [{"filter": "datum.p=='D'"}], "mark": {"type": "rule", "strokeWidth": 1.8, "color": "black"},
   "encoding": {"x": {"field": "g", "type": "nominal", "scale": {"type": "band", "domain": ["S-B","S-R","MF-B","MF-R"], "paddingInner": 0, "paddingOuter": 0.05}, "bandPosition": 0.5}, "x2": {"field": "g2", "bandPosition": 0.5},
    "y": {"field": "v", "type": "quantitative", "scale": {"domain": [2.05, 8], "nice": false, "zero": false}}}},
  {"data": {"name": "sig"}, "transform": [{"filter": "datum.p=='D' && !datum.edge"}], "mark": {"type": "text", "font": "Liberation Sans", "fontSize": 16, "fontWeight": "bold", "baseline": "alphabetic", "dy": 2, "color": "black"},
   "encoding": {"x": {"field": "mid", "type": "nominal", "scale": {"type": "band", "domain": ["S-B","S-R","MF-B","MF-R"], "paddingInner": 0, "paddingOuter": 0.05}, "bandPosition": 0.5},
    "y": {"field": "v", "type": "quantitative", "scale": {"domain": [2.05, 8], "nice": false, "zero": false}}, "text": {"field": "lab"}}},
  {"data": {"name": "sig"}, "transform": [{"filter": "datum.p=='D' && datum.edge"}], "mark": {"type": "text", "font": "Liberation Sans", "fontSize": 16, "fontWeight": "bold", "baseline": "alphabetic", "dy": 2, "color": "black"},
   "encoding": {"x": {"field": "mid", "type": "nominal", "scale": {"type": "band", "domain": ["S-B","S-R","MF-B","MF-R"], "paddingInner": 0, "paddingOuter": 0.05}, "bandPosition": 1},
    "y": {"field": "v", "type": "quantitative", "scale": {"domain": [2.05, 8], "nice": false, "zero": false}}, "text": {"field": "lab"}}}
 ]},
 {"width": 201, "height": 61, "layer": [
  {"data": {"name": "pts"}, "transform": [{"filter": "datum.p=='E' && datum.v>2"}], "mark": {"type": "point", "filled": false, "strokeWidth": 1.7, "opacity": 1},
   "encoding": {"x": {"field": "g", "type": "nominal", "scale": {"type": "band", "domain": ["S-B","S-R","MF-B","MF-R"], "paddingInner": 0, "paddingOuter": 0.05}, "axis": {"orient": "top", "title": ["LPMC S Typhi-specific", "CD69⁺CD8⁺ Tₑₘ"]}},
    "xOffset": {"field": "k", "type": "quantitative", "scale": {"domain": [-10, 10], "nice": false, "zero": false}},
    "y": {"field": "v", "type": "quantitative", "scale": {"domain": [2.07, 10], "nice": false, "zero": false}, "axis": {"values": [2.07, 4, 6, 8, 10], "tickCount": 12, "format": "d", "labelOverlap": false, "labelExpr": "datum.value<2.9?'':datum.label", "title": "E", "titleAngle": 0.01, "titleAlign": "left", "titleX": -38.7, "titleY": -45.5, "titleFontSize": 22, "titleFontWeight": "bold"}},
    "color": {"field": "g", "type": "nominal", "scale": {"domain": ["S-B","S-R","MF-B","MF-R"], "range": ["black","#e2231a","black","#e2231a"]}, "legend": null},
    "shape": {"field": "g", "type": "nominal", "scale": {"domain": ["S-B","S-R","MF-B","MF-R"], "range": ["circle","circle","triangle-up","triangle-up"]}, "legend": null},
    "size": {"field": "g", "type": "nominal", "scale": {"domain": ["S-B","S-R","MF-B","MF-R"], "range": [55,55,75,75]}, "legend": null}}},
  {"data": {"name": "sig"}, "transform": [{"filter": "datum.p=='E'"}], "mark": {"type": "rule", "strokeWidth": 1.8, "color": "black"},
   "encoding": {"x": {"field": "g", "type": "nominal", "scale": {"type": "band", "domain": ["S-B","S-R","MF-B","MF-R"], "paddingInner": 0, "paddingOuter": 0.05}, "bandPosition": 0.5}, "x2": {"field": "g2", "bandPosition": 0.5},
    "y": {"field": "v", "type": "quantitative", "scale": {"domain": [2.07, 10], "nice": false, "zero": false}}}},
  {"data": {"name": "sig"}, "transform": [{"filter": "datum.p=='E' && !datum.edge"}], "mark": {"type": "text", "font": "Liberation Sans", "fontSize": 16, "fontWeight": "bold", "baseline": "alphabetic", "dy": 2, "color": "black"},
   "encoding": {"x": {"field": "mid", "type": "nominal", "scale": {"type": "band", "domain": ["S-B","S-R","MF-B","MF-R"], "paddingInner": 0, "paddingOuter": 0.05}, "bandPosition": 0.5},
    "y": {"field": "v", "type": "quantitative", "scale": {"domain": [2.07, 10], "nice": false, "zero": false}}, "text": {"field": "lab"}}}
 ]},
 {"width": 201, "height": 61, "layer": [
  {"data": {"name": "pts"}, "transform": [{"filter": "datum.p=='F' && datum.v>2"}], "mark": {"type": "point", "filled": false, "strokeWidth": 1.7, "opacity": 1},
   "encoding": {"x": {"field": "g", "type": "nominal", "scale": {"type": "band", "domain": ["S-B","S-R","MF-B","MF-R"], "paddingInner": 0, "paddingOuter": 0.05}, "axis": {"orient": "top", "title": ["LPMC S Typhi-specific", "CD69⁺CD8⁺ Tₑₘ"]}},
    "xOffset": {"field": "k", "type": "quantitative", "scale": {"domain": [-10, 10], "nice": false, "zero": false}},
    "y": {"field": "v", "type": "quantitative", "scale": {"domain": [2.2, 15], "nice": false, "zero": false}, "axis": {"values": [2.2, 5, 10, 15], "tickCount": 12, "format": "d", "labelOverlap": false, "labelExpr": "datum.value<2.9?'':datum.label", "title": "F", "titleAngle": 0.01, "titleAlign": "left", "titleX": -38.7, "titleY": -46.5, "titleFontSize": 22, "titleFontWeight": "bold"}},
    "color": {"field": "g", "type": "nominal", "scale": {"domain": ["S-B","S-R","MF-B","MF-R"], "range": ["black","#e2231a","black","#e2231a"]}, "legend": null},
    "shape": {"field": "g", "type": "nominal", "scale": {"domain": ["S-B","S-R","MF-B","MF-R"], "range": ["circle","circle","triangle-up","triangle-up"]}, "legend": null},
    "size": {"field": "g", "type": "nominal", "scale": {"domain": ["S-B","S-R","MF-B","MF-R"], "range": [55,55,75,75]}, "legend": null}}},
  {"data": {"name": "sig"}, "transform": [{"filter": "datum.p=='F'"}], "mark": {"type": "rule", "strokeWidth": 1.8, "color": "black"},
   "encoding": {"x": {"field": "g", "type": "nominal", "scale": {"type": "band", "domain": ["S-B","S-R","MF-B","MF-R"], "paddingInner": 0, "paddingOuter": 0.05}, "bandPosition": 0.5}, "x2": {"field": "g2", "bandPosition": 0.5},
    "y": {"field": "v", "type": "quantitative", "scale": {"domain": [2.2, 15], "nice": false, "zero": false}}}},
  {"data": {"name": "sig"}, "transform": [{"filter": "datum.p=='F' && !datum.edge"}], "mark": {"type": "text", "font": "Liberation Sans", "fontSize": 16, "fontWeight": "bold", "baseline": "alphabetic", "dy": 2, "color": "black"},
   "encoding": {"x": {"field": "mid", "type": "nominal", "scale": {"type": "band", "domain": ["S-B","S-R","MF-B","MF-R"], "paddingInner": 0, "paddingOuter": 0.05}, "bandPosition": 0.5},
    "y": {"field": "v", "type": "quantitative", "scale": {"domain": [2.2, 15], "nice": false, "zero": false}}, "text": {"field": "lab"}}}
 ]},
 {"width": 201, "height": 80, "layer": [
  {"data": {"name": "pts"}, "transform": [{"filter": "datum.p=='D' && datum.v<=2"}], "mark": {"type": "point", "filled": false, "strokeWidth": 1.7, "opacity": 1},
   "encoding": {"x": {"field": "g", "type": "nominal", "scale": {"type": "band", "domain": ["S-B","S-R","MF-B","MF-R"], "paddingInner": 0, "paddingOuter": 0.05}, "axis": {"orient": "bottom", "bandPosition": 1, "labelExpr": "datum.value=='S-B'?'S':(datum.value=='MF-B'?'MF':'')", "title": "Black", "titleFontWeight": "bold", "titleAlign": "right", "titleX": 158.3}},
    "xOffset": {"field": "k", "type": "quantitative", "scale": {"domain": [-10, 10], "nice": false, "zero": false}},
    "y": {"field": "v", "type": "quantitative", "scale": {"domain": [0, 2], "nice": false, "zero": false}, "axis": {"values": [0, 0.5, 1, 1.5, 2], "tickCount": 12, "format": ".1f", "labelOverlap": false, "title": "% of IL-17A⁺ cells", "titleY": 6.6}},
    "color": {"field": "g", "type": "nominal", "scale": {"domain": ["S-B","S-R","MF-B","MF-R"], "range": ["black","#e2231a","black","#e2231a"]}, "legend": null},
    "shape": {"field": "g", "type": "nominal", "scale": {"domain": ["S-B","S-R","MF-B","MF-R"], "range": ["circle","circle","triangle-up","triangle-up"]}, "legend": null},
    "size": {"field": "g", "type": "nominal", "scale": {"domain": ["S-B","S-R","MF-B","MF-R"], "range": [55,55,75,75]}, "legend": null}}},
  {"data": {"name": "med"}, "transform": [{"filter": "datum.p=='D'"}], "mark": {"type": "tick", "orient": "horizontal", "size": 36, "thickness": 1.8, "color": "black"},
   "encoding": {"x": {"field": "g", "type": "nominal", "scale": {"type": "band", "domain": ["S-B","S-R","MF-B","MF-R"], "paddingInner": 0, "paddingOuter": 0.05}},
    "y": {"field": "v", "type": "quantitative", "scale": {"domain": [0, 2], "nice": false, "zero": false}}}},
  {"data": {"name": "pairs"}, "mark": {"type": "rule", "strokeWidth": 2, "color": "black"},
   "encoding": {"x": {"field": "g", "type": "nominal", "scale": {"type": "band", "domain": ["S-B","S-R","MF-B","MF-R"], "paddingInner": 0, "paddingOuter": 0.05}, "bandPosition": 0.5}, "x2": {"field": "g2", "bandPosition": 0.5},
    "y": {"datum": -0.375, "type": "quantitative", "scale": {"domain": [0, 2], "nice": false, "zero": false}}}}
 ]},
 {"width": 201, "height": 80, "layer": [
  {"data": {"name": "pts"}, "transform": [{"filter": "datum.p=='E' && datum.v<=2"}], "mark": {"type": "point", "filled": false, "strokeWidth": 1.7, "opacity": 1},
   "encoding": {"x": {"field": "g", "type": "nominal", "scale": {"type": "band", "domain": ["S-B","S-R","MF-B","MF-R"], "paddingInner": 0, "paddingOuter": 0.05}, "axis": {"orient": "bottom", "bandPosition": 1, "labelExpr": "datum.value=='S-B'?'S':(datum.value=='MF-B'?'MF':'')", "title": "- Unvaccinated (n=22)", "titleAlign": "left", "titleX": -87.7}},
    "xOffset": {"field": "k", "type": "quantitative", "scale": {"domain": [-10, 10], "nice": false, "zero": false}},
    "y": {"field": "v", "type": "quantitative", "scale": {"domain": [0, 2], "nice": false, "zero": false}, "axis": {"values": [0, 0.5, 1, 1.5, 2], "tickCount": 12, "format": ".1f", "labelOverlap": false, "title": "% of IL-2⁺ cells", "titleY": 12.5}},
    "color": {"field": "g", "type": "nominal", "scale": {"domain": ["S-B","S-R","MF-B","MF-R"], "range": ["black","#e2231a","black","#e2231a"]}, "legend": null},
    "shape": {"field": "g", "type": "nominal", "scale": {"domain": ["S-B","S-R","MF-B","MF-R"], "range": ["circle","circle","triangle-up","triangle-up"]}, "legend": null},
    "size": {"field": "g", "type": "nominal", "scale": {"domain": ["S-B","S-R","MF-B","MF-R"], "range": [55,55,75,75]}, "legend": null}}},
  {"data": {"name": "med"}, "transform": [{"filter": "datum.p=='E'"}], "mark": {"type": "tick", "orient": "horizontal", "size": 36, "thickness": 1.8, "color": "black"},
   "encoding": {"x": {"field": "g", "type": "nominal", "scale": {"type": "band", "domain": ["S-B","S-R","MF-B","MF-R"], "paddingInner": 0, "paddingOuter": 0.05}},
    "y": {"field": "v", "type": "quantitative", "scale": {"domain": [0, 2], "nice": false, "zero": false}}}},
  {"data": {"name": "pairs"}, "mark": {"type": "rule", "strokeWidth": 2, "color": "black"},
   "encoding": {"x": {"field": "g", "type": "nominal", "scale": {"type": "band", "domain": ["S-B","S-R","MF-B","MF-R"], "paddingInner": 0, "paddingOuter": 0.05}, "bandPosition": 0.5}, "x2": {"field": "g2", "bandPosition": 0.5},
    "y": {"datum": -0.375, "type": "quantitative", "scale": {"domain": [0, 2], "nice": false, "zero": false}}}}
 ]},
 {"width": 201, "height": 80, "layer": [
  {"data": {"name": "pts"}, "transform": [{"filter": "datum.p=='F' && datum.v<=2"}], "mark": {"type": "point", "filled": false, "strokeWidth": 1.7, "opacity": 1},
   "encoding": {"x": {"field": "g", "type": "nominal", "scale": {"type": "band", "domain": ["S-B","S-R","MF-B","MF-R"], "paddingInner": 0, "paddingOuter": 0.05}, "axis": {"orient": "bottom", "bandPosition": 1, "labelExpr": "datum.value=='S-B'?'S':(datum.value=='MF-B'?'MF':'')", "title": "Red", "titleFontWeight": "bold", "titleColor": "#e2231a", "titleAlign": "right", "titleX": -128.7}},
    "xOffset": {"field": "k", "type": "quantitative", "scale": {"domain": [-10, 10], "nice": false, "zero": false}},
    "y": {"field": "v", "type": "quantitative", "scale": {"domain": [0, 2], "nice": false, "zero": false}, "axis": {"values": [0, 0.5, 1, 1.5, 2], "tickCount": 12, "format": ".1f", "labelOverlap": false, "title": "% of MIP1-β⁺ cells", "titleY": 6.6}},
    "color": {"field": "g", "type": "nominal", "scale": {"domain": ["S-B","S-R","MF-B","MF-R"], "range": ["black","#e2231a","black","#e2231a"]}, "legend": null},
    "shape": {"field": "g", "type": "nominal", "scale": {"domain": ["S-B","S-R","MF-B","MF-R"], "range": ["circle","circle","triangle-up","triangle-up"]}, "legend": null},
    "size": {"field": "g", "type": "nominal", "scale": {"domain": ["S-B","S-R","MF-B","MF-R"], "range": [55,55,75,75]}, "legend": null}}},
  {"data": {"name": "med"}, "transform": [{"filter": "datum.p=='F'"}], "mark": {"type": "tick", "orient": "horizontal", "size": 36, "thickness": 1.8, "color": "black"},
   "encoding": {"x": {"field": "g", "type": "nominal", "scale": {"type": "band", "domain": ["S-B","S-R","MF-B","MF-R"], "paddingInner": 0, "paddingOuter": 0.05}},
    "y": {"field": "v", "type": "quantitative", "scale": {"domain": [0, 2], "nice": false, "zero": false}}}},
  {"data": {"name": "pairs"}, "mark": {"type": "rule", "strokeWidth": 2, "color": "black"},
   "encoding": {"x": {"field": "g", "type": "nominal", "scale": {"type": "band", "domain": ["S-B","S-R","MF-B","MF-R"], "paddingInner": 0, "paddingOuter": 0.05}, "bandPosition": 0.5}, "x2": {"field": "g2", "bandPosition": 0.5},
    "y": {"datum": -0.375, "type": "quantitative", "scale": {"domain": [0, 2], "nice": false, "zero": false}}}}
 ]}
],
"config": {
 "view": {"stroke": null},
 "font": "Lato",
 "axis": {"grid": false, "domainColor": "black", "tickColor": "black", "labelColor": "black", "titleColor": "black", "labelOverlap": false},
 "axisLeft": {"labelFont": "Liberation Sans", "labelFontSize": 7.5, "labelFontWeight": "bold", "tickSize": 3, "tickWidth": 1.3, "domainWidth": 1.4, "labelPadding": 1.5, "titleFont": "Lato", "titleFontSize": 19.5, "titleFontWeight": "normal", "titleAlign": "center", "titleBaseline": "alphabetic", "titleX": -22.4},
 "axisTop": {"domain": false, "ticks": false, "labels": false, "titleX": 105, "titleY": -44, "titleAlign": "center", "titleBaseline": "alphabetic", "titleFont": "Lato", "titleFontSize": 14, "titleFontWeight": "bold", "titleLineHeight": 21},
 "axisBottom": {"offset": 10, "domainWidth": 1.4, "ticks": false, "tickSize": 0, "labelFont": "Lato", "labelFontSize": 20, "labelFontWeight": "bold", "labelPadding": 8, "labelBaseline": "top", "labelAngle": 0, "labelOverlap": false, "labelOffset": 2, "titleFont": "Lato", "titleFontSize": 16, "titleFontWeight": "normal", "titleBaseline": "alphabetic", "titleY": 44}
}
}
